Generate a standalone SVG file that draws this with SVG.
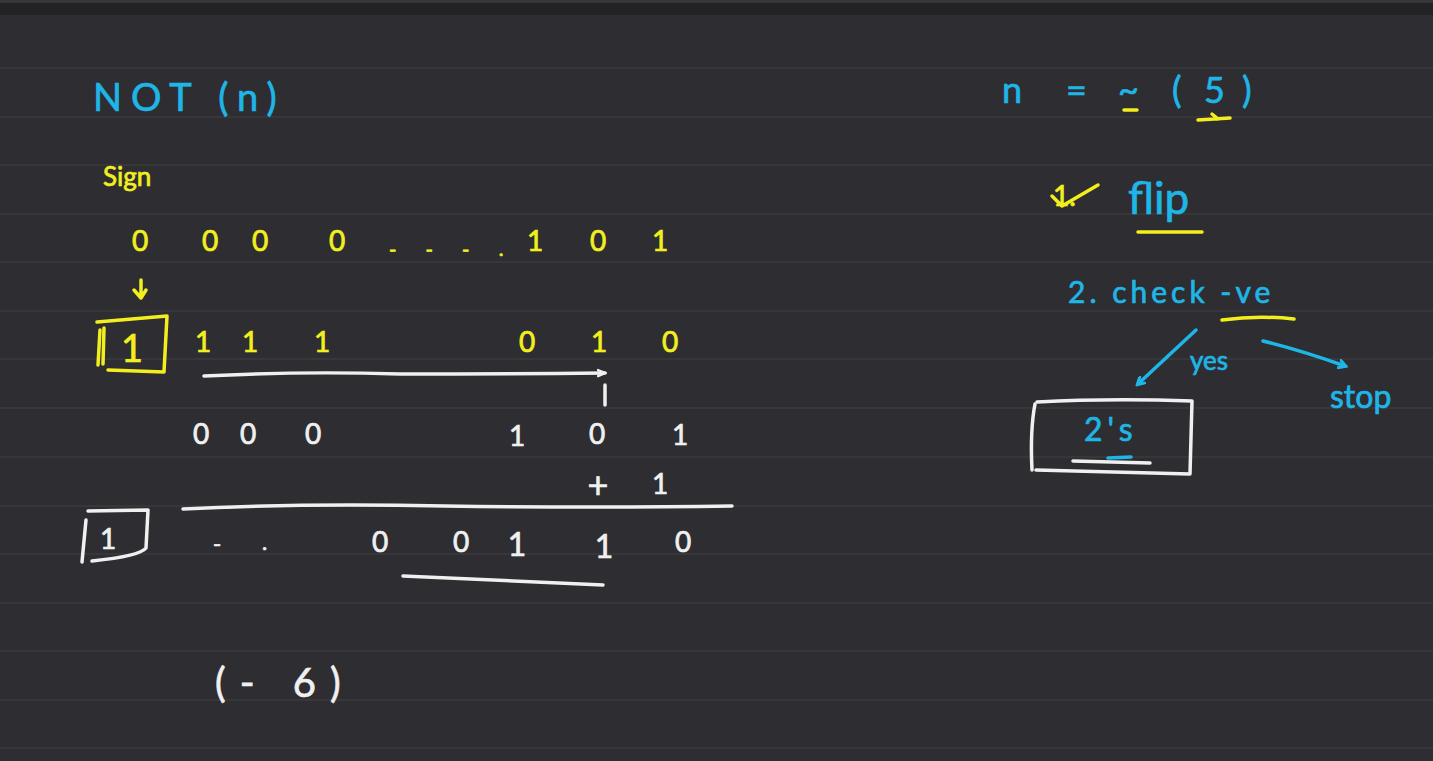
<svg xmlns="http://www.w3.org/2000/svg" width="1433" height="761" viewBox="0 0 1433 761">
<style>
text{font-family:"Lato","Liberation Sans",sans-serif;stroke-width:0.7;}
.c{fill:#1fb5e6;stroke:#1fb5e6;}
.y{fill:#f3ef1e;stroke:#f3ef1e;}
.w{fill:#f0f0f0;stroke:#f0f0f0;}
.d{font-size:28px;text-anchor:middle;}
.sy{fill:none;stroke:#f3ef1e;stroke-width:3.5;stroke-linecap:round;stroke-linejoin:round;}
.sw{fill:none;stroke:#f0f0f0;stroke-width:3.5;stroke-linecap:round;stroke-linejoin:round;}
.sc{fill:none;stroke:#1fb5e6;stroke-width:3.5;stroke-linecap:round;stroke-linejoin:round;}
.rule{stroke:#3b3a3e;stroke-width:1.5;}
</style>
<defs>
<marker id="ac" markerWidth="10" markerHeight="10" refX="7" refY="5" orient="auto" markerUnits="userSpaceOnUse"><path d="M1,1 L8,5 L1,9" fill="none" stroke="#1fb5e6" stroke-width="3" stroke-linecap="round"/></marker>
<marker id="aw" markerWidth="10" markerHeight="10" refX="8" refY="5" orient="auto" markerUnits="userSpaceOnUse"><path d="M1,2 L8,5 L1,8" fill="none" stroke="#f0f0f0" stroke-width="2.5" stroke-linecap="round"/></marker>
</defs>
<rect width="1433" height="761" fill="#2e2d31"/>
<rect width="1433" height="3" fill="#38363a"/>
<rect y="3" width="1433" height="12" fill="#232225"/>
<g id="rules">
<line class="rule" x1="0" y1="68" x2="1433" y2="68"/>
<line class="rule" x1="0" y1="117" x2="1433" y2="117"/>
<line class="rule" x1="0" y1="165" x2="1433" y2="165"/>
<line class="rule" x1="0" y1="214" x2="1433" y2="214"/>
<line class="rule" x1="0" y1="262" x2="1433" y2="262"/>
<line class="rule" x1="0" y1="311" x2="1433" y2="311"/>
<line class="rule" x1="0" y1="359" x2="1433" y2="359"/>
<line class="rule" x1="0" y1="408" x2="1433" y2="408"/>
<line class="rule" x1="0" y1="457" x2="1433" y2="457"/>
<line class="rule" x1="0" y1="506" x2="1433" y2="506"/>
<line class="rule" x1="0" y1="554" x2="1433" y2="554"/>
<line class="rule" x1="0" y1="603" x2="1433" y2="603"/>
<line class="rule" x1="0" y1="651" x2="1433" y2="651"/>
<line class="rule" x1="0" y1="700" x2="1433" y2="700"/>
<line class="rule" x1="0" y1="748" x2="1433" y2="748"/>
</g>

<g id="title">
<text class="c" x="93" y="111" font-size="38" letter-spacing="9">NOT (n)</text>
</g>
<g id="sign">
<text class="y" x="103" y="186" font-size="26">Sign</text>
</g>

<g id="row1">
<text class="y d" x="140" y="251">0</text>
<text class="y d" x="210" y="251">0</text>
<text class="y d" x="260" y="251">0</text>
<text class="y d" x="337" y="251">0</text>
<text class="y" x="389" y="256" font-size="20" letter-spacing="12">- - - .</text>
<text class="y d" x="535" y="251">1</text>
<text class="y d" x="598" y="251">0</text>
<text class="y d" x="660" y="251">1</text>
</g>

<g id="signbox">
<path class="sy" d="M97,322 L167,316 L164,372 L108,370"/>
<path class="sy" d="M100,330 L98,365 M104,328 L103,364"/>
<text class="y d" x="132" y="362" style="font-size:38px">1</text>
</g>

<g id="row2">
<text class="y d" x="203" y="352">1</text>
<text class="y d" x="250" y="352">1</text>
<text class="y d" x="322" y="352">1</text>
<text class="y d" x="527" y="352">0</text>
<text class="y d" x="599" y="352">1</text>
<text class="y d" x="670" y="352">0</text>
</g>

<g id="row3">
<text class="w d" x="201" y="444">0</text>
<text class="w d" x="248" y="444">0</text>
<text class="w d" x="313" y="444">0</text>
<text class="w d" x="517" y="446">1</text>
<text class="w d" x="597" y="444">0</text>
<text class="w d" x="680" y="445">1</text>
<text class="w d" x="598" y="498" style="font-size:36px">+</text>
<text class="w d" x="660" y="494">1</text>
</g>

<g id="resultbox">
<path class="sw" d="M88,511 L148,510 L146,548 Q140,556 92,561"/>
<path class="sw" d="M86,520 L82,562"/>
<text class="w d" x="108" y="549">1</text>
</g>

<g id="row4">
<text class="w" x="213" y="552" font-size="22">-</text>
<text class="w" x="262" y="550" font-size="22">.</text>
<text class="w d" x="380" y="552">0</text>
<text class="w d" x="461" y="552">0</text>
<text class="w d" x="517" y="556" style="font-size:32px">1</text>
<text class="w d" x="604" y="558" style="font-size:32px">1</text>
<text class="w d" x="683" y="552">0</text>
</g>

<g id="result">
<text class="w" x="215" y="697" font-size="40" letter-spacing="14">(- 6)</text>
</g>

<g id="right-eq">
<text class="c" font-size="36" x="1002 1066 1118 1172 1204 1242" y="103">n=~(5)</text>
<path class="sy" d="M1124,110 L1137,110" stroke-width="5"/>
<path class="sy" d="M1198,120 L1230,118 M1212,114 L1218,119"/>
</g>

<g id="step1">
<text class="y" x="1053" y="206" font-size="28">1.</text>
<path class="sy" d="M1052,196 L1062,206 L1098,185"/>
<text class="c" x="1128" y="214" font-size="44">flip</text>
<path class="sy" d="M1138,232 L1202,232"/>
</g>

<g id="step2">
<text class="c" x="1068" y="303" font-size="30" letter-spacing="4">2. check -ve</text>
<path class="sy" d="M1222,320 Q1258,315 1294,319" stroke-width="6"/>
</g>

<g id="twos">
<path class="sw" d="M1037,402 Q1110,398 1192,401 L1190,474 L1036,470"/>
<path class="sw" d="M1035,404 Q1030,430 1032,470"/>
<text class="c" x="1084" y="441" font-size="32" letter-spacing="5">2's</text>
<path class="sw" d="M1073,461 L1150,463" stroke-width="4"/>
<path class="sc" d="M1108,458 L1131,457" stroke-width="3"/>
</g>

<g id="stop">
<text class="c" x="1330" y="408" font-size="32">stop</text>
</g>

<g id="connectors">
<path class="sy" d="M141,280 L141,297 M134,290 L141,298 L146,290"/>
<path class="sw" d="M204,376 Q300,371 400,374 Q500,374 605,373" marker-end="url(#aw)"/>
<path class="sw" d="M605,385 L605,405"/>
<path class="sw" d="M183,509 Q300,503 445,506 Q600,508 732,506"/>
<path class="sw" d="M403,576 L603,585"/>
<path class="sc" d="M1196,330 L1138,384" marker-end="url(#ac)"/>
<text class="c" x="1190" y="370" font-size="26">yes</text>
<path class="sc" d="M1263,341 Q1300,350 1345,366" marker-end="url(#ac)"/>
</g>
</svg>
